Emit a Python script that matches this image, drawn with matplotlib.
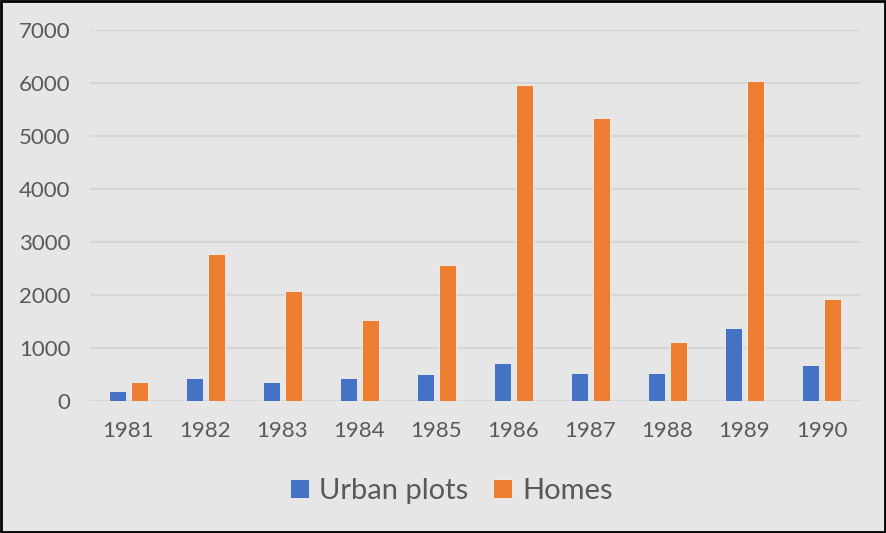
import matplotlib
matplotlib.use("Agg")
import matplotlib.pyplot as plt
import numpy as np
from matplotlib.patches import Rectangle

years = ["1981", "1982", "1983", "1984", "1985", "1986", "1987", "1988", "1989", "1990"]
urban_plots = [185, 430, 355, 430, 505, 712, 523, 523, 1375, 675]
homes = [355, 2780, 2075, 1525, 2565, 5955, 5345, 1120, 6030, 1930]
yticks = [0, 1000, 2000, 3000, 4000, 5000, 6000, 7000]

plt.rcParams['font.family'] = ['Lato', 'DejaVu Sans']

bg = "#e7e6e6"
fig = plt.figure(figsize=(8.87, 5.33), dpi=100, facecolor=bg)
ax = fig.add_axes([90/887, 1-401/533, 770/887, 371/533], facecolor=bg)

x = np.arange(len(years))
w = 0.22
off = 0.145
ax.bar(x - off, urban_plots, width=w, color="#4472c4", edgecolor="#f2f2f2", linewidth=0.6, label="Urban plots", zorder=3)
ax.bar(x + off, homes, width=w, color="#ed7d31", edgecolor="#f2f2f2", linewidth=0.6, label="Homes", zorder=3)

ax.set_xlim(-0.5, len(years) - 0.5)
ax.set_ylim(0, 7000)
ax.set_yticks(yticks)
ax.set_yticklabels([str(v) for v in yticks])
ax.set_xticks(x)
ax.set_xticklabels(years)
ax.grid(axis="y", color="#d6d6d6", linewidth=1.6, zorder=0)
for s in ax.spines.values():
    s.set_visible(False)
ax.tick_params(axis="both", length=0, labelsize=16, labelcolor="#595959")
ax.tick_params(axis="y", pad=14)
ax.tick_params(axis="x", pad=14.5)

leg = fig.legend(loc="center", bbox_to_anchor=(0.509, 1-491/533), ncol=2, frameon=False,
                 fontsize=21, handlelength=0.65, handleheight=0.65, handletextpad=0.35,
                 columnspacing=0.85, labelcolor="#595959")

fig.add_artist(Rectangle((0.001, 0.002), 0.997, 0.996, transform=fig.transFigure,
                         fill=False, edgecolor="black", linewidth=2))

fig.savefig("out.png", dpi=100, facecolor=bg)
